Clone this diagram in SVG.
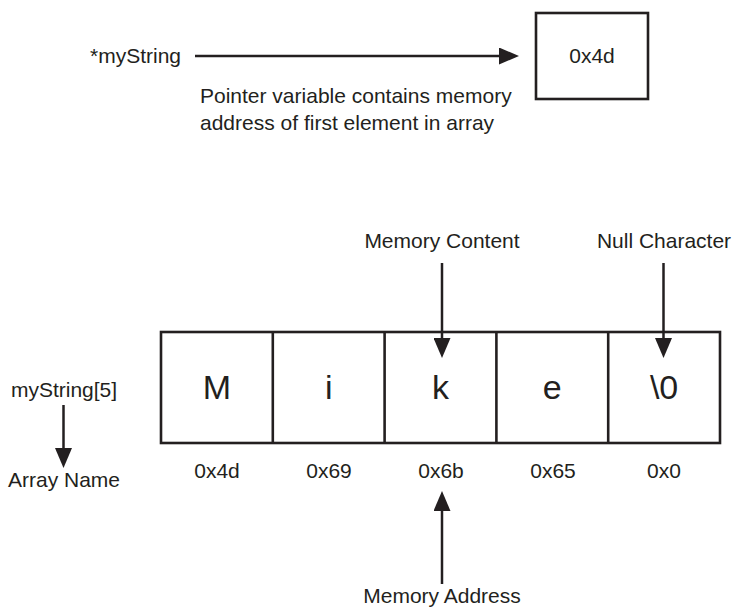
<svg xmlns="http://www.w3.org/2000/svg" width="734" height="608" viewBox="0 0 734 608">
<style>
  text { font-family: "Liberation Sans", Arial, sans-serif; fill: #231f20; }
  .lbl { font-size: 21px; }
  .cell-t { font-size: 34px; text-anchor: middle; }
  .mid { text-anchor: middle; }
  .box { fill: #ffffff; stroke: #231f20; stroke-width: 2.6; }
  .conn { stroke: #231f20; stroke-width: 2.5; fill: none; marker-end: url(#ah); }
</style>
<defs>
  <marker id="ah" viewBox="0 0 20 17" refX="8" refY="8.5" markerWidth="20" markerHeight="17" markerUnits="userSpaceOnUse" orient="auto">
    <path d="M0,0 L20,8.5 L0,17 Z" fill="#231f20"/>
  </marker>
</defs>
<rect width="734" height="608" fill="#ffffff"/>

<g id="pointer-label">
  <text class="lbl" x="90" y="63">*myString</text>
</g>
<g id="pointer-box">
  <rect class="box" x="536" y="13" width="112" height="86"/>
  <text class="lbl mid" x="592" y="63">0x4d</text>
</g>
<g id="pointer-note">
  <text class="lbl" x="200" y="103">Pointer variable contains memory</text>
  <text class="lbl" x="200" y="130">address of first element in array</text>
</g>

<g id="array">
  <rect class="box" x="161" y="332" width="559" height="111"/>
  <line x1="272.8" y1="332" x2="272.8" y2="443" stroke="#231f20" stroke-width="2.6"/>
  <line x1="384.6" y1="332" x2="384.6" y2="443" stroke="#231f20" stroke-width="2.6"/>
  <line x1="496.4" y1="332" x2="496.4" y2="443" stroke="#231f20" stroke-width="2.6"/>
  <line x1="608.2" y1="332" x2="608.2" y2="443" stroke="#231f20" stroke-width="2.6"/>
  <text class="cell-t" x="216.9" y="399">M</text>
  <text class="cell-t" x="328.7" y="399">i</text>
  <text class="cell-t" x="440.5" y="399">k</text>
  <text class="cell-t" x="552.3" y="399">e</text>
  <text class="cell-t" x="664.1" y="399">\0</text>
</g>
<g id="addresses">
  <text class="lbl mid" x="217" y="478">0x4d</text>
  <text class="lbl mid" x="329" y="478">0x69</text>
  <text class="lbl mid" x="441" y="478">0x6b</text>
  <text class="lbl mid" x="553" y="478">0x65</text>
  <text class="lbl mid" x="664" y="478">0x0</text>
</g>
<g id="array-name-label">
  <text class="lbl mid" x="64" y="397">myString[5]</text>
  <text class="lbl mid" x="64" y="487">Array Name</text>
</g>
<g id="memory-content-label">
  <text class="lbl mid" x="442" y="248">Memory Content</text>
</g>
<g id="null-character-label">
  <text class="lbl mid" x="664" y="248">Null Character</text>
</g>
<g id="memory-address-label">
  <text class="lbl mid" x="442" y="603">Memory Address</text>
</g>

<g id="connectors">
  <line class="conn" x1="195" y1="56" x2="507" y2="56"/>
  <line class="conn" x1="63.5" y1="405" x2="63.5" y2="456"/>
  <line class="conn" x1="442" y1="263" x2="442" y2="346"/>
  <line class="conn" x1="663.5" y1="263" x2="663.5" y2="346"/>
  <line class="conn" x1="442" y1="584" x2="442" y2="503"/>
</g>
</svg>
